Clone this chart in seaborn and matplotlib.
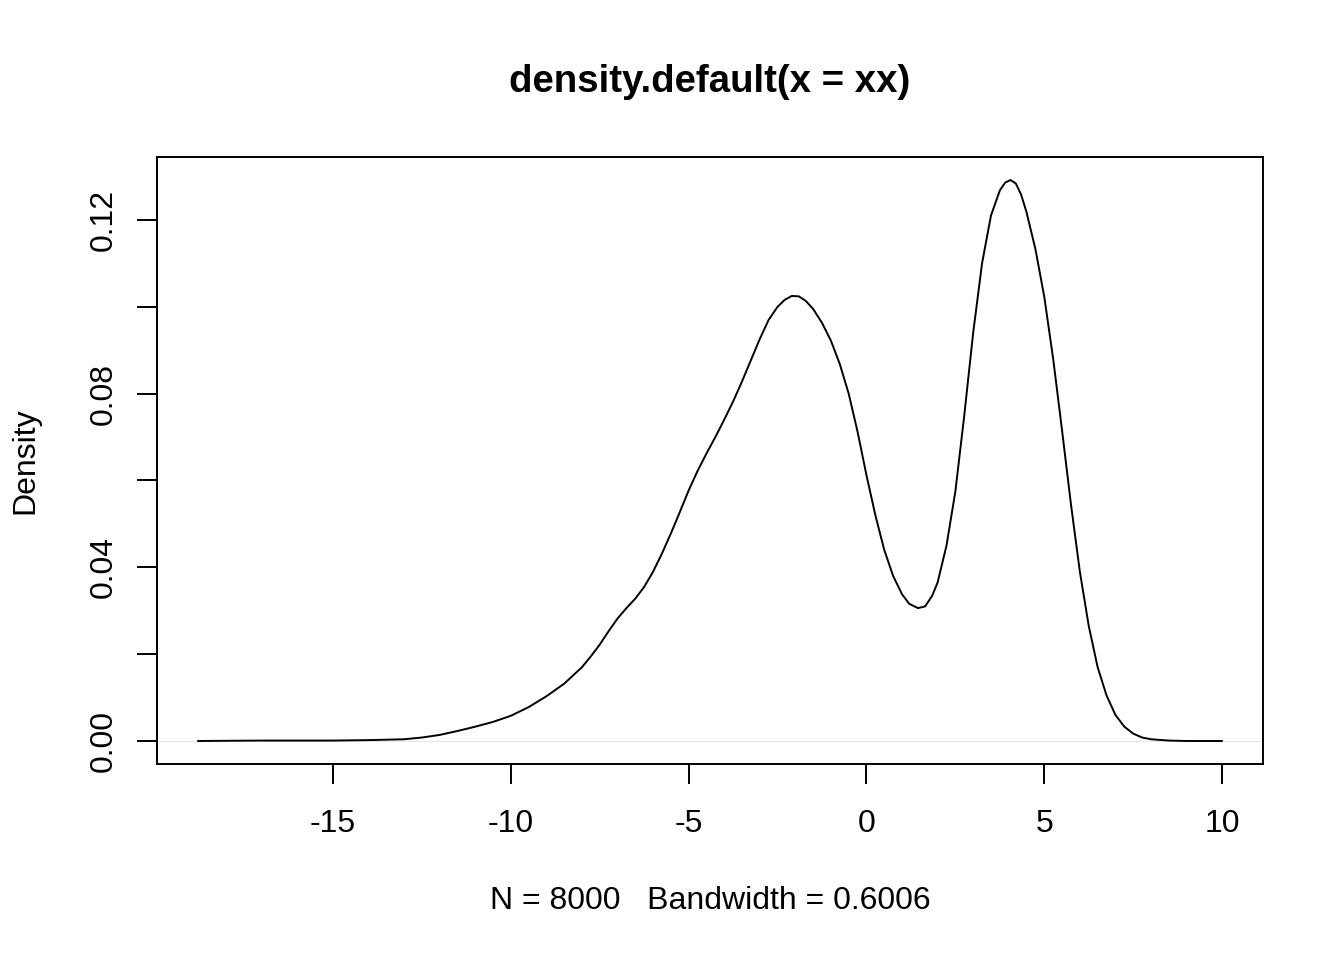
"""plot.py - kernel density curve redrawn in R base-graphics style"""
import matplotlib
matplotlib.use("Agg")
import matplotlib.pyplot as plt
import seaborn as sns
import pandas as pd

# density curve
grid_x = [-18.8, -17.0, -15.0, -14.0, -13.0, -12.5, -12.0, -11.5, -11.0, -10.5,
          -10.0, -9.5, -9.0, -8.5, -8.0, -7.75, -7.5, -7.25, -7.0, -6.75,
          -6.5, -6.25, -6.0, -5.75, -5.5, -5.25, -5.0, -4.75, -4.5, -4.25,
          -4.0, -3.75, -3.5, -3.25, -3.0, -2.75, -2.5, -2.3, -2.1, -1.9,
          -1.7, -1.5, -1.25, -1.0, -0.75, -0.5, -0.25, 0.0, 0.25, 0.5,
          0.75, 1.0, 1.2, 1.45, 1.65, 1.85, 2.0, 2.25, 2.5, 2.75,
          3.0, 3.25, 3.5, 3.75, 3.9, 4.05, 4.2, 4.35, 4.5, 4.75,
          5.0, 5.25, 5.5, 5.75, 6.0, 6.25, 6.5, 6.75, 7.0, 7.25,
          7.5, 7.75, 8.0, 8.5, 9.0, 10.0]
density = [0.0000, 0.0001, 0.0001, 0.0002, 0.0004, 0.0008, 0.0014, 0.0023, 0.0033, 0.0044,
           0.0058, 0.0078, 0.0103, 0.0132, 0.0170, 0.0195, 0.0222, 0.0253, 0.0282, 0.0306,
           0.0328, 0.0355, 0.0390, 0.0432, 0.0478, 0.0527, 0.0577, 0.0622, 0.0662, 0.0700,
           0.0740, 0.0782, 0.0828, 0.0877, 0.0926, 0.0970, 0.1000, 0.1016, 0.1025, 0.1024,
           0.1013, 0.0995, 0.0963, 0.0922, 0.0868, 0.0800, 0.0712, 0.0612, 0.0520, 0.0440,
           0.0380, 0.0338, 0.0316, 0.0306, 0.0310, 0.0335, 0.0365, 0.0450, 0.0575, 0.0750,
           0.0940, 0.1100, 0.1210, 0.1268, 0.1286, 0.1292, 0.1284, 0.1258, 0.1218, 0.1133,
           0.1023, 0.0880, 0.0715, 0.0545, 0.0390, 0.0265, 0.0170, 0.0105, 0.0060, 0.0033,
           0.0017, 0.0008, 0.0004, 0.0001, 0.0000, 0.0000]

x_ticks = [-15, -10, -5, 0, 5, 10]
y_ticks = [0.00, 0.02, 0.04, 0.06, 0.08, 0.10, 0.12]
y_labels = ["0.00", "", "0.04", "", "0.08", "", "0.12"]

title = "density.default(x = xx)"
x_label = "N = 8000   Bandwidth = 0.6006"
y_label = "Density"

sns.set_style("white")
plt.rcParams["font.family"] = ["Liberation Sans", "DejaVu Sans"]
plt.rcParams["text.color"] = "black"
plt.rcParams["axes.labelcolor"] = "black"

df = pd.DataFrame({"x": grid_x, "y": density})

fig = plt.figure(figsize=(13.44, 9.6), dpi=100)
ax = fig.add_axes([157 / 1344, 1 - 764 / 960, (1263 - 157) / 1344, (764 - 157) / 960])

ax.axhline(0, color="#e6e6e6", lw=0.8, zorder=1)
sns.lineplot(data=df, x="x", y="y", sort=False, color="black", lw=1.4, ax=ax, zorder=3)

ax.set_xlim(-19.95, 11.15)
ax.set_ylim(-0.0053, 0.1345)
ax.set_xticks(x_ticks)
ax.set_xticklabels([str(t) for t in x_ticks])
ax.set_yticks(y_ticks)
ax.set_yticklabels(y_labels)

for s in ax.spines.values():
    s.set_visible(True)
    s.set_color("black")
    s.set_linewidth(1.4)

ax.tick_params(axis="both", direction="out", length=14.5, width=1.4,
               colors="black", labelcolor="black", labelsize=23, left=True, bottom=True)
ax.tick_params(axis="x", pad=18)
ax.tick_params(axis="y", pad=13)
plt.setp(ax.get_yticklabels(), rotation=90, va="center")

ax.set_xlabel(x_label, fontsize=23, color="black")
ax.xaxis.set_label_coords(0.5, -(901 - 764) / 607)
ax.xaxis.label.set_va("center")
ax.set_ylabel(y_label, fontsize=23, color="black")
ax.yaxis.set_label_coords(-(157 - 25) / 1106, 0.5)
ax.yaxis.label.set_va("center")

fig.text((157 + 1263) / 2 / 1344, 1 - 82 / 960, title, fontsize=27.6,
         fontweight="bold", ha="center", va="center", color="black")

fig.savefig("out.png", dpi=100)
plt.close(fig)
